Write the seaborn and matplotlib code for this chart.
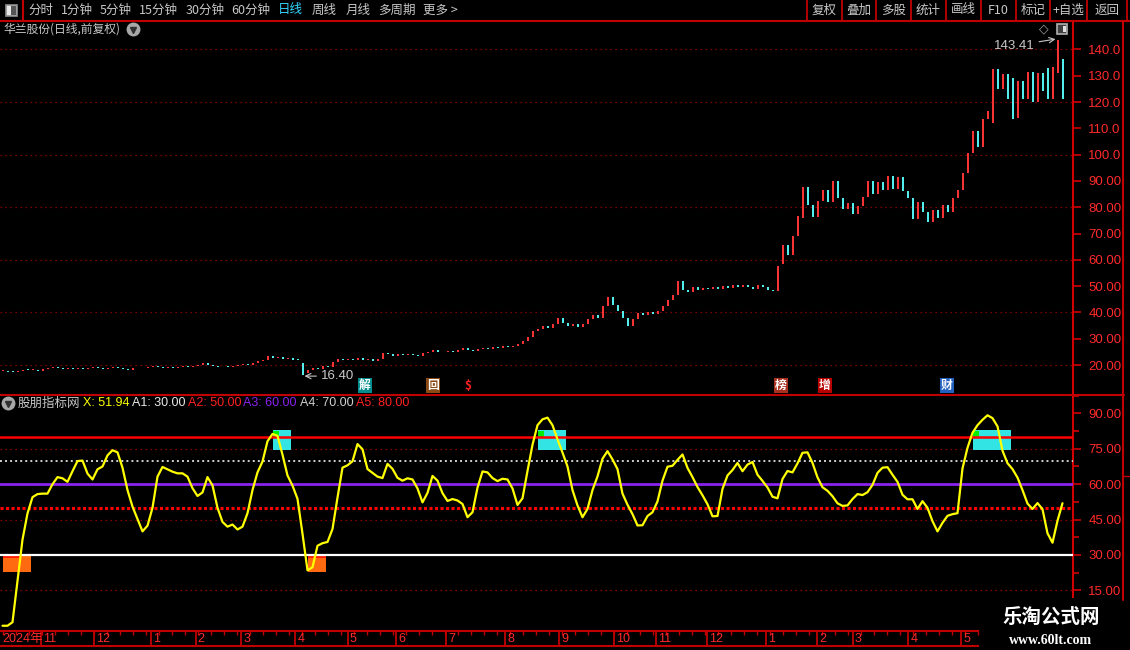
import numpy as np
import pandas as pd
import matplotlib
matplotlib.use("Agg")
import matplotlib.pyplot as plt
import matplotlib.transforms as mtransforms
from matplotlib.lines import Line2D
from matplotlib.patches import Rectangle
from matplotlib.ticker import MultipleLocator
import seaborn as sns

# ---------------- data ----------------
opens = [17.6, 17.9, 17.5, 17.3, 17.8, 18.3, 18.0, 18.1, 17.9, 18.4,
         18.8, 19.4, 19.0, 18.6, 18.9, 18.4, 18.7, 18.5, 18.9, 19.1,
         18.8, 18.5, 18.9, 19.3, 18.9, 18.6, 18.3, 18.7, 19.0, 18.7,
         19.2, 19.6, 19.2, 18.8, 19.3, 19.0, 19.4, 19.8, 19.3, 19.6,
         20.0, 20.6, 19.9, 19.5, 19.1, 19.4, 19.2, 19.6, 20.1, 20.4,
         20.0, 20.6, 21.4, 22.0, 23.3, 22.6, 22.9, 22.3, 22.5, 22.2,
         20.8, 16.9, 18.0, 18.8, 18.5, 19.6, 19.2, 21.2, 22.3, 21.8,
         22.4, 22.0, 22.5, 21.9, 22.2, 21.7, 22.2, 24.6, 24.1, 23.5,
         24.2, 23.7, 24.3, 24.0, 23.6, 24.4, 24.9, 25.7, 25.1, 24.8,
         25.4, 25.1, 25.7, 26.3, 25.9, 25.5, 26.2, 26.6, 26.2, 26.8,
         26.5, 27.1, 26.8, 27.3, 27.9, 29.0, 30.5, 32.8, 33.6, 34.9,
         34.0, 35.6, 37.8, 35.9, 35.0, 35.8, 34.6, 35.6, 37.4, 38.9,
         38.0, 42.5, 46.0, 42.8, 40.6, 37.8, 35.0, 37.6, 39.8, 39.0,
         40.2, 39.4, 40.4, 42.6, 44.8, 46.5, 51.8, 48.6, 47.8, 49.5,
         48.6, 49.3, 48.8, 49.8, 49.0, 50.2, 49.4, 50.4, 49.6, 50.6,
         49.6, 48.8, 50.5, 49.5, 48.6, 48.2, 58.5, 65.6, 62.0, 69.0,
         76.0, 87.8, 81.0, 76.2, 82.5, 86.5, 82.0, 89.8, 83.5, 79.5,
         81.5, 77.6, 80.5, 84.0, 90.0, 85.0, 89.5, 86.5, 92.0, 87.0,
         91.5, 86.0, 83.5, 75.5, 82.0, 78.0, 74.5, 79.0, 76.0, 81.0,
         78.0, 83.5, 86.5, 93.0, 100.5, 109.0, 103.0, 113.5, 112.0, 132.5,
         125.0, 130.5, 129.0, 114.0, 128.0, 121.0, 131.5, 120.0, 131.0, 133.0,
         121.0, 131.0, 136.5]
closes = [17.9, 17.5, 17.3, 17.8, 18.3, 18.0, 18.1, 17.9, 18.4, 18.8,
          19.4, 19.0, 18.6, 18.9, 18.4, 18.7, 18.5, 18.9, 19.1, 18.8,
          18.5, 18.9, 19.3, 18.9, 18.6, 18.3, 18.7, 19.0, 18.7, 19.2,
          19.6, 19.2, 18.8, 19.3, 19.0, 19.4, 19.8, 19.3, 19.6, 20.0,
          20.6, 19.9, 19.5, 19.1, 19.4, 19.2, 19.6, 20.1, 20.4, 20.0,
          20.6, 21.4, 22.0, 23.3, 22.6, 22.9, 22.3, 22.5, 22.1, 21.8,
          16.4, 18.0, 18.8, 18.5, 19.6, 19.2, 21.2, 22.3, 21.8, 22.4,
          22.0, 22.5, 21.9, 22.2, 21.7, 22.2, 24.6, 24.1, 23.5, 24.2,
          23.7, 24.3, 24.0, 23.6, 24.4, 24.9, 25.7, 25.1, 24.8, 25.4,
          25.1, 25.7, 26.3, 25.9, 25.5, 26.2, 26.6, 26.2, 26.8, 26.5,
          27.1, 26.8, 27.3, 27.9, 29.0, 30.5, 32.8, 33.6, 34.9, 34.0,
          35.6, 37.8, 35.9, 35.0, 35.8, 34.6, 35.6, 37.4, 38.9, 38.0,
          42.5, 46.0, 42.8, 40.6, 37.8, 35.0, 37.6, 39.8, 39.0, 40.2,
          39.4, 40.4, 42.6, 44.8, 46.5, 51.8, 48.6, 47.8, 49.5, 48.6,
          49.3, 48.8, 49.8, 49.0, 50.2, 49.4, 50.4, 49.6, 50.6, 49.6,
          48.8, 50.5, 49.5, 48.6, 48.0, 57.8, 65.6, 62.0, 69.0, 76.5,
          87.8, 81.0, 76.2, 82.5, 86.5, 82.0, 89.8, 83.5, 79.5, 81.5,
          77.6, 80.5, 84.0, 90.0, 85.0, 89.5, 86.5, 92.0, 87.0, 91.5,
          86.0, 83.5, 75.5, 82.0, 78.0, 74.5, 79.0, 76.0, 81.0, 78.0,
          83.5, 86.5, 93.0, 100.5, 109.0, 103.0, 113.5, 116.5, 132.5, 125.0,
          130.5, 121.0, 113.5, 128.0, 121.0, 131.5, 120.0, 131.0, 124.0, 121.0,
          133.5, 143.41, 121.0]
x_values = [0, 0, 1.5, 19, 36.5, 47.6, 54.5, 55.8, 56, 56,
            60, 63, 62.5, 61, 65.5, 69.8, 70, 64.5, 62, 66.3,
            67.5, 72.2, 74.4, 73.5, 67, 57.5, 50.5, 45.3, 40, 42.4,
            50, 63.2, 67.3, 66.3, 65.3, 64.6, 64.6, 63.2, 58.3, 55,
            56.5, 63, 59.5, 50, 44, 42, 42.9, 40.8, 42, 47.7,
            57.5, 65, 69.6, 78.2, 81.3, 80.5, 72.5, 63.7, 59.4, 53.8,
            39, 23.5, 24.8, 33.9, 35, 35.5, 41, 54.3, 67, 68,
            69.7, 77, 74.8, 66.4, 64.8, 63.2, 62.6, 68.6, 66.5, 62.7,
            61.5, 62.5, 62, 58.2, 52.3, 56.3, 63.5, 61.5, 56.2, 52.9,
            53.7, 53.1, 51.6, 46, 48.1, 58.5, 65.4, 65, 62.6, 61.3,
            62.3, 62, 58.2, 51.2, 54, 65.6, 76.7, 85, 87.5, 88.2,
            85, 79, 73.4, 67.5, 57.5, 51, 46, 49.5, 57.5, 63.3,
            70.8, 74, 70.5, 66.4, 56, 51.3, 47.3, 42.5, 42.6, 46.5,
            48.1, 52.7, 61.5, 67.4, 67.8, 70.3, 72.6, 66.9, 63, 58.8,
            55.3, 51.5, 46.4, 46.5, 58, 63.7, 66, 69, 65.5, 68.3,
            69.4, 64, 61.4, 58.6, 54.7, 54, 62.2, 65.6, 65, 68.8,
            73.3, 73.5, 69, 62.9, 58.7, 57.2, 54.9, 51.9, 50.8, 51,
            53.7, 55.8, 55.4, 56.6, 59.7, 64.8, 67, 67.2, 64, 61,
            55.5, 53.6, 53.6, 49.5, 52.8, 50, 44.3, 40, 43.6, 46.6,
            47.3, 47.7, 66.7, 75.4, 81.8, 85, 87.3, 89.2, 88, 84.5,
            74.2, 68.9, 66.4, 62.8, 57.5, 51.8, 49.5, 52, 49.4, 39.2,
            35.2, 44.5, 51.94]
level_names = ["A1", "A2", "A3", "A4", "A5"]
level_values = [30, 50, 60, 70, 80]
month_labels = ["2024年", "11", "12", "1", "2", "3", "4", "5", "6", "7", "8", "9",
                "10", "11", "12", "1", "2", "3", "4", "5"]
month_pos = [-0.5, 7.7, 18.3, 29.6, 38.6, 47.7, 58.5, 69.0, 78.7, 88.7, 100.5, 111.3,
             122.2, 130.7, 140.9, 152.7, 162.9, 170.0, 181.1, 191.7]
event_labels = ["解", "回", "$", "榜", "增", "财"]
event_pos = [72.5, 86.1, 93.1, 155.7, 164.5, 188.9]
price_ticks = [20, 30, 40, 50, 60, 70, 80, 90, 100, 110, 120, 130, 140]
price_grid = [20, 40, 60, 80, 100, 120, 140]
ind_ticks = [15, 30, 45, 60, 75, 90]
toolbar_left = ["分时", "1分钟", "5分钟", "15分钟", "30分钟", "60分钟", "日线", "周线", "月线", "多周期", "更多 >"]
toolbar_right = ["复权", "叠加", "多股", "统计", "画线", "F10", "标记", "+自选", "返回"]
stock_title = "华兰股份(日线,前复权)"
indicator_name = "股朋指标网"

# ---------------- style ----------------
sns.set_theme(style="dark", rc={"axes.facecolor": "black", "figure.facecolor": "black",
                                 "savefig.facecolor": "black", "axes.grid": False})
plt.rcParams['font.family'] = ['Noto Sans CJK SC', 'DejaVu Sans']
NUMF = ['Liberation Sans', 'DejaVu Sans']

RED = '#ff2a2a'
GREY = '#c8c8c8'
W, H = 1130, 650
fig = plt.figure(figsize=(W / 100, H / 100), dpi=100, facecolor='black')


def rect(x0, y0, x1, y1):
    return [x0 / W, 1 - y1 / H, (x1 - x0) / W, (y1 - y0) / H]


def fx(px):
    return px / W


def fy(py):
    return 1 - py / H


def fline(x0, y0, x1, y1, **kw):
    fig.add_artist(Line2D([fx(x0), fx(x1)], [fy(y0), fy(y1)], transform=fig.transFigure, **kw))


def ftext(px, py, s, **kw):
    kw.setdefault('va', 'center')
    fig.text(fx(px), fy(py), s, **kw)


n = len(closes)
idx = np.arange(n)
o = np.array(opens)
c = np.array(closes)
xv = np.array(x_values)
XR = 1073 / 5 - 0.5

# ---------------- price panel ----------------
ax_p = fig.add_axes(rect(0, 21, 1073, 394))
ax_p.set_facecolor('black')
ax_p.set_xlim(-0.5, XR)
ax_p.set_ylim(9.0, 150.8)
for g in price_grid:
    ax_p.axhline(g, color='#a00000', lw=0.9, ls=(0, (1, 3)), zorder=1)
up = c >= o
cols = np.where(up, '#ff3535', '#55f5f5')
lo = np.minimum(o, c)
hi = np.maximum(o, c)
hi = np.where(hi - lo < 0.35, lo + 0.35, hi)
ax_p.vlines(idx, lo, hi, colors=cols, lw=1.4, zorder=3)

for s in ['top', 'left', 'bottom']:
    ax_p.spines[s].set_visible(False)
ax_p.spines['right'].set_color('#d00000')
ax_p.spines['right'].set_linewidth(1.5)
ax_p.set_xticks([])
ax_p.yaxis.tick_right()
ax_p.set_yticks(price_ticks)
ax_p.set_yticklabels([("%.1f" % t) if t >= 100 else ("%.2f" % t) for t in price_ticks],
                     fontfamily=NUMF)
ax_p.tick_params(axis='y', colors='#d00000', labelcolor=RED, length=6, width=1.2,
                 pad=5, labelsize=9.5)

imax = int(np.argmax(c))
imin = int(np.argmin(c))
ax_p.annotate("%.2f" % c[imax], xy=(imax - 0.4, c[imax] + 0.5), xytext=(imax - 4.6, 141.4),
              ha='right', va='center', color=GREY, fontsize=9.5, fontfamily=NUMF,
              arrowprops=dict(arrowstyle='->', color=GREY, lw=0.8, shrinkA=1, shrinkB=0))
ax_p.annotate("%.2f" % c[imin], xy=(imin + 0.4, 15.8), xytext=(imin + 3.7, 15.8),
              ha='left', va='center', color=GREY, fontsize=9.5, fontfamily=NUMF,
              arrowprops=dict(arrowstyle='->', color=GREY, lw=0.8, shrinkA=1, shrinkB=0))

ev_style = {"解": ('white', '#008c8c'), "回": ('white', '#8b4a14'), "$": ('#ff2020', None),
            "榜": ('white', '#a83020'), "增": ('white', '#b80000'), "财": ('white', '#2460c0')}
trans = mtransforms.blended_transform_factory(ax_p.transData, ax_p.transAxes)
for lab, pos in zip(event_labels, event_pos):
    fc, bc = ev_style[lab]
    kw = dict(ha='center', va='center', color=fc, fontsize=8.5, fontweight='bold',
              transform=trans, zorder=5)
    if bc:
        kw['bbox'] = dict(boxstyle='square,pad=0.1', fc=bc, ec='none')
    ax_p.text(pos, 0.023, lab, **kw)

# ---------------- indicator panel ----------------
ax_i = fig.add_axes(rect(0, 395, 1073, 630))
ax_i.set_facecolor('black')
ax_i.set_xlim(-0.5, XR)
ax_i.set_ylim(-1.8, 97.8)
for g in [15, 45, 75]:
    ax_i.axhline(g, color='#b00000', lw=0.9, ls=(0, (1, 3)), zorder=1)

sig_hi = xv >= 80
sig_lo = xv <= 30
ax_i.bar(idx[sig_hi], -8.4, bottom=82.9, width=2.6, align='edge', color='#33e4e4',
         linewidth=0, zorder=2)
start_hi = sig_hi & ~np.concatenate([[False], sig_hi[:-1]])
ax_i.bar(idx[start_hi], -3.2, bottom=82.6, width=1.2, align='edge', color='#00ee00',
         linewidth=0, zorder=2.5)
ax_i.bar(idx[sig_lo], -7.2, bottom=30, width=2.6, align='edge', color='#ff6a10',
         linewidth=0, zorder=2)
start_lo = sig_lo & ~np.concatenate([[False], sig_lo[:-1]])
ax_i.bar(idx[start_lo], -1.4, bottom=30, width=3.6, align='edge', color='#ff1a00',
         linewidth=0, zorder=2.5)

lvl_style = {
    30: dict(color='white', lw=1.6, ls='-'),
    50: dict(color='#ff0000', lw=2.2, ls=(0, (1, 0.8))),
    60: dict(color='#8a22f0', lw=2.0, ls='-'),
    70: dict(color='#d0d0d0', lw=1.4, ls=(0, (1, 1.6))),
    80: dict(color='#ff0000', lw=1.8, ls='-'),
}
for v in level_values:
    ax_i.axhline(v, zorder=3, **lvl_style[v])

df = pd.DataFrame({"bar": idx, "X": xv})
sns.lineplot(data=df, x="bar", y="X", ax=ax_i, color='#ffff00', lw=1.6, zorder=4)
ax_i.set_xlabel("")
ax_i.set_ylabel("")

for s in ['top', 'left', 'bottom']:
    ax_i.spines[s].set_visible(False)
ax_i.spines['right'].set_color('#d00000')
ax_i.spines['right'].set_linewidth(1.5)
ax_i.set_xticks([])
ax_i.yaxis.tick_right()
ax_i.set_yticks(ind_ticks)
ax_i.set_yticklabels(["%.2f" % t for t in ind_ticks], fontfamily=NUMF)
ax_i.yaxis.set_minor_locator(MultipleLocator(7.5))
ax_i.tick_params(axis='y', which='major', colors='#d00000', labelcolor=RED, length=6,
                 width=1.2, pad=5, labelsize=9.5)
ax_i.tick_params(axis='y', which='minor', colors='#d00000', length=4, width=1.2)

# ---------------- date strip ----------------
ax_d = fig.add_axes(rect(0, 631, 978, 646))
ax_d.set_facecolor('black')
ax_d.set_xlim(-0.5, 978 / 5 - 0.5)
ax_d.set_ylim(0, 1)
for s in ['left', 'right']:
    ax_d.spines[s].set_visible(False)
for s in ['top', 'bottom']:
    ax_d.spines[s].set_color('#c00000')
    ax_d.spines[s].set_linewidth(1.5)
ax_d.set_yticks([])
ax_d.set_xticks([])
ax_d.xaxis.set_minor_locator(MultipleLocator(2.6))
ax_d.tick_params(axis='x', which='minor', direction='in', top=True, bottom=False,
                 length=3, width=1, color='#c00000')
ax_d.vlines(month_pos[1:], 0, 1, colors='#c00000', lw=1.3)
for lab, pos in zip(month_labels, month_pos):
    ax_d.text(pos + 0.45, 0.45, lab, color=RED, fontsize=9, ha='left', va='center',
              fontfamily=['Liberation Sans', 'Noto Sans CJK SC'])

# ---------------- frame lines / toolbar ----------------
fline(0, 20.5, W, 20.5, color='#c00000', lw=1.5)
fline(0, 394.5, 1124, 394.5, color='#c00000', lw=1.5)
fline(1123, 21, 1123, 600, color='#c00000', lw=1.5)
fline(1123, 476, W, 476, color='#c00000', lw=1.0)
fline(23, 0, 23, 20, color='#c00000', lw=1.5)
fig.add_artist(Rectangle((fx(6), fy(16)), 11 / W, 11 / H, transform=fig.transFigure,
                         fc='#e8e8e8', ec='#909090', lw=1.2))
fig.add_artist(Rectangle((fx(11), fy(15)), 5 / W, 9 / H, transform=fig.transFigure,
                         fc='#555555', ec='none'))
left_x = [28.6, 60.7, 100, 139, 186, 231, 278, 312, 346, 378, 422.5]
for lab, px in zip(toolbar_left, left_x):
    ftext(px, 10, lab, color='#33d6ff' if lab == "日线" else GREY, fontsize=9, ha='left')
seps = [807, 842, 876, 911, 946, 981, 1016, 1050, 1087, 1127]
for sx in seps:
    fline(sx, 0, sx, 20, color='#c00000', lw=1.3)
for lab, a, b in zip(toolbar_right, seps[:-1], seps[1:]):
    ftext((a + b) / 2, 10, lab, color=GREY, fontsize=9, ha='center')

ftext(3, 29, stock_title, color=GREY, fontsize=8.5, ha='left')
fig.add_artist(Line2D([fx(133)], [fy(29)], marker='o', ms=9, color='#a8a8a8',
                      transform=fig.transFigure))
fig.add_artist(Line2D([fx(133)], [fy(29.5)], marker='v', ms=4, color='#303030',
                      transform=fig.transFigure))
ftext(1044, 29, "◇", color='#a0a0a0', fontsize=9, ha='center', fontfamily=['DejaVu Sans'])
fig.add_artist(Rectangle((fx(1057), fy(34)), 10 / W, 10 / H, transform=fig.transFigure,
                         fc='#404040', ec='#b0b0b0', lw=1.2))
fig.add_artist(Rectangle((fx(1063), fy(32)), 3 / W, 6 / H, transform=fig.transFigure,
                         fc='#e0e0e0', ec='none'))

# indicator title
fig.add_artist(Line2D([fx(8)], [fy(403)], marker='o', ms=9, color='#a8a8a8',
                      transform=fig.transFigure))
fig.add_artist(Line2D([fx(8)], [fy(403.5)], marker='v', ms=4, color='#303030',
                      transform=fig.transFigure))
ftext(18, 403, indicator_name, color=GREY, fontsize=9, ha='left')
ftext(83, 403, "X: %.2f" % xv[-1], color='#ffff00', fontsize=9, ha='left', fontfamily=NUMF)
title_x = [132, 188, 243, 300, 356]
title_c = ['#e8e8e8', '#ff2020', '#8a22f0', '#d0d0d0', '#ff2020']
for nm, v, px, cc in zip(level_names, level_values, title_x, title_c):
    ftext(px, 403, "%s: %.2f" % (nm, v), color=cc, fontsize=9, ha='left', fontfamily=NUMF)

# watermark
fig.add_artist(Rectangle((fx(982), fy(650)), (W - 982) / W, 52 / H, transform=fig.transFigure,
                         fc='black', ec='none'))
ftext(1051, 617, "乐淘公式网", color='white', fontsize=14, ha='center', fontweight='bold')
ftext(1051, 640, "www.60lt.com", color='white', fontsize=10, ha='center', fontweight='bold',
      fontfamily=['Liberation Serif', 'DejaVu Serif'])

fig.savefig("out.png", dpi=100, facecolor='black')
